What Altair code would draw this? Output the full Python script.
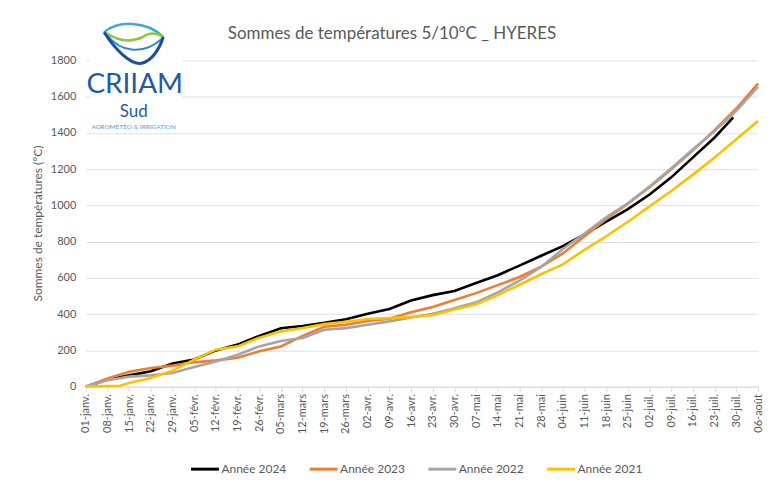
import json
import altair as alt
import pandas as pd

# ---- data ----
chart_title = "Sommes de températures 5/10°C _ HYERES"
tick_labels = ["01-janv.", "08-janv.", "15-janv.", "22-janv.", "29-janv.", "05-févr.", "12-févr.",
               "19-févr.", "26-févr.", "05-mars", "12-mars", "19-mars", "26-mars", "02-avr.",
               "09-avr.", "16-avr.", "23-avr.", "30-avr.", "07-mai", "14-mai", "21-mai", "28-mai",
               "04-juin", "11-juin", "18-juin", "25-juin", "02-juil.", "09-juil.", "16-juil.",
               "23-juil.", "30-juil.", "06-août"]
tick_days = [7 * i for i in range(len(tick_labels))]

series_names = ["Année 2024", "Année 2023", "Année 2022", "Année 2021"]
series_colors = ["#000000", "#ed7d31", "#a5a5a5", "#ffc000"]

days_2024 = [0, 7, 14, 21, 28, 35, 42, 49, 56, 63, 70, 77, 84, 91, 98, 105, 112, 119, 126, 133,
             140, 147, 154, 161, 168, 175, 182, 189, 196, 203, 209]
vals_2024 = [0, 38, 62, 85, 128, 150, 200, 232, 280, 322, 335, 352, 372, 402, 428, 475, 505, 528,
             572, 615, 668, 722, 775, 840, 910, 980, 1060, 1155, 1265, 1375, 1486]

days_2023 = tick_days
vals_2023 = [0, 45, 82, 103, 116, 134, 145, 160, 195, 222, 280, 330, 341, 362, 375, 410, 440, 478,
             516, 560, 605, 662, 735, 830, 925, 1010, 1100, 1200, 1305, 1415, 1535, 1673]

days_2022 = tick_days
vals_2022 = [0, 35, 55, 62, 75, 108, 139, 176, 222, 252, 268, 314, 323, 341, 360, 382, 402, 432,
             465, 520, 585, 660, 760, 845, 935, 1012, 1105, 1205, 1310, 1410, 1522, 1655]

days_2021 = [0, 7, 11] + tick_days[2:]
vals_2021 = [0, 3, 5, 20, 48, 88, 149, 204, 222, 270, 305, 323, 345, 358, 373, 378, 384, 395,
             425, 455, 505, 562, 620, 675, 755, 830, 910, 995, 1080, 1170, 1265, 1365, 1466]

y_ticks = list(range(0, 1801, 200))

rows = []
for name, d, v in [(series_names[0], days_2024, vals_2024),
                   (series_names[1], days_2023, vals_2023),
                   (series_names[2], days_2022, vals_2022),
                   (series_names[3], days_2021, vals_2021)]:
    for di, vi in zip(d, v):
        rows.append({"serie": name, "jour": di, "somme": vi})
df = pd.DataFrame(rows)

FONT = "Lato"
GREY = "#595959"

label_expr = json.dumps(tick_labels, ensure_ascii=False) + "[round(datum.value/7)]"

lines = alt.Chart(df).mark_line(strokeWidth=2.6).encode(
    x=alt.X("jour:Q",
            scale=alt.Scale(domain=[0, 217], nice=False, zero=False),
            axis=alt.Axis(values=tick_days, labelExpr=label_expr, labelAngle=270,
                          labelAlign="right", labelBaseline="middle", labelPadding=2,
                          grid=False, domainColor="#d9d9d9", tickColor="#d9d9d9", tickSize=5,
                          labelFontSize=11, labelColor=GREY, labelFont=FONT, title=None,
                          labelOverlap=False)),
    y=alt.Y("somme:Q",
            scale=alt.Scale(domain=[0, 1800], nice=False),
            axis=alt.Axis(values=y_ticks, format="d", grid=True, gridColor="#e0e0e0",
                          domain=False, ticks=False, labelPadding=10, labelFontSize=11,
                          labelColor=GREY, labelFont=FONT, title="Sommes de températures (°C)",
                          titleFont=FONT, titleFontSize=12, titleColor=GREY,
                          titleFontWeight="normal", titleAngle=270, titleX=-48, titleY=163,
                          titleAlign="center", titleBaseline="middle")),
    color=alt.Color("serie:N",
                    scale=alt.Scale(domain=series_names, range=series_colors),
                    legend=alt.Legend(orient="none", legendX=104, legendY=394,
                                      direction="horizontal", title=None, symbolType="stroke",
                                      symbolSize=784, symbolStrokeWidth=3, labelFont=FONT,
                                      labelFontSize=12, labelColor=GREY, columnPadding=16,
                                      labelOffset=1)),
)

one = pd.DataFrame({"k": [0]})

title_txt = alt.Chart(one).mark_text(text=chart_title, font=FONT, fontSize=17, color=GREY,
                                     align="center", baseline="middle").encode(
    x=alt.value(307), y=alt.value(-27))

logo_bg = alt.Chart(one).mark_rect(color="white").encode(
    x=alt.value(4), x2=alt.value(97), y=alt.value(-6), y2=alt.value(71))

criiam = alt.Chart(one).mark_text(text="CRIIAM", font=FONT, fontSize=28, color="#1f5aa6",
                                  align="center", baseline="alphabetic").encode(
    x=alt.value(49), y=alt.value(33))
sud = alt.Chart(one).mark_text(text="Sud", font=FONT, fontSize=17, color="#1f5aa6",
                               align="center", baseline="alphabetic").encode(
    x=alt.value(48), y=alt.value(57))
agro = alt.Chart(one).mark_text(text="AGROMÉTÉO & IRRIGATION", font=FONT, fontSize=6.5,
                                color="#4aa3df", align="center", baseline="alphabetic").encode(
    x=alt.value(48), y=alt.value(69))

icon_paths = [
    ("M-0.95,-0.3 C-0.5,-0.68 0.4,-0.68 0.95,-0.15", "#3aa7dd", 2.5),
    ("M-0.9,-0.28 C-0.4,0.05 0.0,0.0 0.3,-0.15 C0.5,-0.3 0.7,-0.3 0.95,-0.15", "#8dc63f", 2.5),
    ("M-0.85,-0.2 C-0.4,0.35 0.3,0.45 0.92,-0.1", "#2c8ad0", 2),
    ("M-0.95,-0.3 C-0.6,0.25 -0.1,0.75 0.25,0.7 C0.6,0.62 0.85,0.2 0.95,-0.15", "#1b4f9c", 3),
]
icons = [
    alt.Chart(one).mark_point(shape=p, size=3900, stroke=c, strokeWidth=w, filled=False,
                              opacity=1).encode(x=alt.value(48), y=alt.value(-19))
    for p, c, w in icon_paths
]

chart = alt.layer(lines, logo_bg, criiam, sud, agro, title_txt, *icons).properties(
    width=674, height=327,
    autosize=alt.AutoSizeParams(type="none"),
    padding={"left": 78, "top": 52, "right": 5, "bottom": 90},
).configure_view(stroke=None)

chart.save("out.html", embed_options={"renderer": "svg", "actions": False})
